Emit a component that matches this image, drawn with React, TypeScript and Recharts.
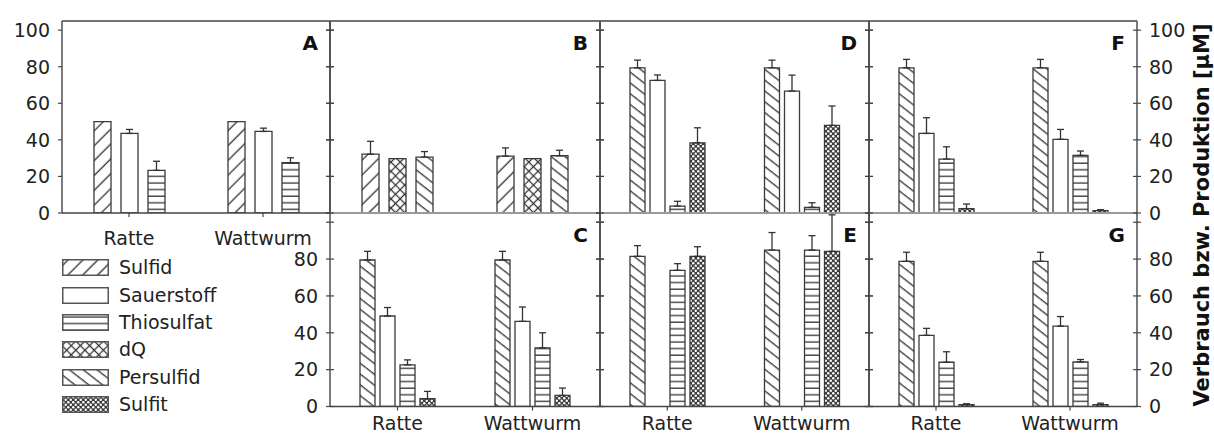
import React from 'react'
import { BarChart, Bar, XAxis, YAxis, ErrorBar, ReferenceLine } from 'recharts'

const FONT = '"DejaVu Sans", Verdana, sans-serif'
const INK = '#222'
const AXIS = '#444'
const BAR_LINE = '#3a3a3a'

const CATEGORIES = ['Ratte', 'Wattwurm']
const Y_TICKS = [0, 20, 40, 60, 80, 100]
const Y_MAX = 105

// Panel A
const A_SULFID = [50, 50]
const A_SULFID_ERR = [0, 0]
const A_SAUERSTOFF = [43.5, 44.6]
const A_SAUERSTOFF_ERR = [2.2, 1.8]
const A_THIOSULFAT = [23.3, 27.5]
const A_THIOSULFAT_ERR = [5, 2.7]

// Panel B
const B_SULFID = [32.2, 31.1]
const B_SULFID_ERR = [7, 4.5]
const B_DQ = [29.7, 29.7]
const B_DQ_ERR = [0, 0]
const B_PERSULFID = [30.6, 31.3]
const B_PERSULFID_ERR = [3, 3]

// Panel C
const C_PERSULFID = [79.5, 79.5]
const C_PERSULFID_ERR = [4.7, 4.7]
const C_SAUERSTOFF = [49.1, 46.2]
const C_SAUERSTOFF_ERR = [4.6, 7.8]
const C_THIOSULFAT = [22.6, 31.8]
const C_THIOSULFAT_ERR = [2.7, 8.2]
const C_SULFIT = [4.2, 6]
const C_SULFIT_ERR = [4, 4]

// Panel D
const D_PERSULFID = [79.4, 79.4]
const D_PERSULFID_ERR = [4.2, 4.2]
const D_SAUERSTOFF = [72.5, 66.7]
const D_SAUERSTOFF_ERR = [3, 8.7]
const D_THIOSULFAT = [3.8, 3.1]
const D_THIOSULFAT_ERR = [2.6, 2.5]
const D_SULFIT = [38.4, 47.9]
const D_SULFIT_ERR = [8.2, 10.6]

// Panel E (no Sauerstoff measured)
const E_PERSULFID = [81.5, 84.9]
const E_PERSULFID_ERR = [5.8, 9.5]
const E_SAUERSTOFF = [null, null]
const E_SAUERSTOFF_ERR = [0, 0]
const E_THIOSULFAT = [73.9, 84.9]
const E_THIOSULFAT_ERR = [3.6, 7.8]
const E_SULFIT = [81.5, 84.2]
const E_SULFIT_ERR = [5.2, 19.8]

// Panel F
const F_PERSULFID = [79.4, 79.4]
const F_PERSULFID_ERR = [4.6, 4.6]
const F_SAUERSTOFF = [43.5, 40.3]
const F_SAUERSTOFF_ERR = [8.6, 5.4]
const F_THIOSULFAT = [29.5, 31.5]
const F_THIOSULFAT_ERR = [6.7, 2.4]
const F_SULFIT = [2.4, 1.3]
const F_SULFIT_ERR = [2.5, 0.5]

// Panel G
const G_PERSULFID = [78.8, 78.8]
const G_PERSULFID_ERR = [4.9, 4.9]
const G_SAUERSTOFF = [38.6, 43.6]
const G_SAUERSTOFF_ERR = [3.8, 5.2]
const G_THIOSULFAT = [24, 24.2]
const G_THIOSULFAT_ERR = [5.7, 1.3]
const G_SULFIT = [1, 1]
const G_SULFIT_ERR = [0.5, 0.8]

const LEGEND = [
  { key: 'sulfid', name: 'Sulfid' },
  { key: 'sauerstoff', name: 'Sauerstoff' },
  { key: 'thiosulfat', name: 'Thiosulfat' },
  { key: 'dq', name: 'dQ' },
  { key: 'persulfid', name: 'Persulfid' },
  { key: 'sulfit', name: 'Sulfit' },
]

const fillOf = (key: string) => key === 'sauerstoff' ? '#fff' : `url(#p-${key})`

type Series = { key: string; values: (number | null)[]; errs: number[] }
type PanelCfg = {
  letter: string
  x: number; y: number; w: number; h: number
  row: 0 | 1
  leftLabels?: boolean
  rightLabels?: boolean
  outerLeft?: boolean
  xLabels?: boolean
  barSize: number
  barGap: number
  series: Series[]
}

const TOP_Y = 21
const TOP_H = 192
const BOT_Y = 213
const BOT_H = 193.5

const PANELS: PanelCfg[] = [
  {
    letter: 'A', x: 62, y: TOP_Y, w: 268, h: TOP_H, row: 0, leftLabels: true, outerLeft: true, xLabels: true,
    barSize: 17, barGap: 10,
    series: [
      { key: 'sulfid', values: A_SULFID, errs: A_SULFID_ERR },
      { key: 'sauerstoff', values: A_SAUERSTOFF, errs: A_SAUERSTOFF_ERR },
      { key: 'thiosulfat', values: A_THIOSULFAT, errs: A_THIOSULFAT_ERR },
    ],
  },
  {
    letter: 'B', x: 330, y: TOP_Y, w: 270, h: TOP_H, row: 0,
    barSize: 17, barGap: 10,
    series: [
      { key: 'sulfid', values: B_SULFID, errs: B_SULFID_ERR },
      { key: 'dq', values: B_DQ, errs: B_DQ_ERR },
      { key: 'persulfid', values: B_PERSULFID, errs: B_PERSULFID_ERR },
    ],
  },
  {
    letter: 'D', x: 600, y: TOP_Y, w: 269, h: TOP_H, row: 0,
    barSize: 15, barGap: 5,
    series: [
      { key: 'persulfid', values: D_PERSULFID, errs: D_PERSULFID_ERR },
      { key: 'sauerstoff', values: D_SAUERSTOFF, errs: D_SAUERSTOFF_ERR },
      { key: 'thiosulfat', values: D_THIOSULFAT, errs: D_THIOSULFAT_ERR },
      { key: 'sulfit', values: D_SULFIT, errs: D_SULFIT_ERR },
    ],
  },
  {
    letter: 'F', x: 869, y: TOP_Y, w: 268, h: TOP_H, row: 0, rightLabels: true,
    barSize: 15, barGap: 5,
    series: [
      { key: 'persulfid', values: F_PERSULFID, errs: F_PERSULFID_ERR },
      { key: 'sauerstoff', values: F_SAUERSTOFF, errs: F_SAUERSTOFF_ERR },
      { key: 'thiosulfat', values: F_THIOSULFAT, errs: F_THIOSULFAT_ERR },
      { key: 'sulfit', values: F_SULFIT, errs: F_SULFIT_ERR },
    ],
  },
  {
    letter: 'C', x: 330, y: BOT_Y, w: 270, h: BOT_H, row: 1, leftLabels: true, xLabels: true,
    barSize: 15, barGap: 5,
    series: [
      { key: 'persulfid', values: C_PERSULFID, errs: C_PERSULFID_ERR },
      { key: 'sauerstoff', values: C_SAUERSTOFF, errs: C_SAUERSTOFF_ERR },
      { key: 'thiosulfat', values: C_THIOSULFAT, errs: C_THIOSULFAT_ERR },
      { key: 'sulfit', values: C_SULFIT, errs: C_SULFIT_ERR },
    ],
  },
  {
    letter: 'E', x: 600, y: BOT_Y, w: 269, h: BOT_H, row: 1, xLabels: true,
    barSize: 15, barGap: 5,
    series: [
      { key: 'persulfid', values: E_PERSULFID, errs: E_PERSULFID_ERR },
      { key: 'sauerstoff', values: E_SAUERSTOFF, errs: E_SAUERSTOFF_ERR },
      { key: 'thiosulfat', values: E_THIOSULFAT, errs: E_THIOSULFAT_ERR },
      { key: 'sulfit', values: E_SULFIT, errs: E_SULFIT_ERR },
    ],
  },
  {
    letter: 'G', x: 869, y: BOT_Y, w: 268, h: BOT_H, row: 1, rightLabels: true, xLabels: true,
    barSize: 15, barGap: 5,
    series: [
      { key: 'persulfid', values: G_PERSULFID, errs: G_PERSULFID_ERR },
      { key: 'sauerstoff', values: G_SAUERSTOFF, errs: G_SAUERSTOFF_ERR },
      { key: 'thiosulfat', values: G_THIOSULFAT, errs: G_THIOSULFAT_ERR },
      { key: 'sulfit', values: G_SULFIT, errs: G_SULFIT_ERR },
    ],
  },
]

function buildRows(series: Series[]) {
  return CATEGORIES.map((cat, i) => {
    const row: Record<string, any> = { cat }
    series.forEach(s => {
      row[s.key] = s.values[i]
      row[s.key + 'Err'] = [0, s.errs[i]]
    })
    return row
  })
}

function Patterns() {
  const s = { stroke: '#333', strokeWidth: 1.3 }
  return (
    <svg width={0} height={0} style={{ position: 'absolute' }}>
      <defs>
        <pattern id="p-sulfid" patternUnits="userSpaceOnUse" width={10.5} height={10.5} patternTransform="rotate(45)">
          <rect width={10.5} height={10.5} fill="#fff" />
          <line x1={5} y1={0} x2={5} y2={10.5} {...s} />
        </pattern>
        <pattern id="p-persulfid" patternUnits="userSpaceOnUse" width={8.5} height={8.5} patternTransform="rotate(-52)">
          <rect width={8.5} height={8.5} fill="#fff" />
          <line x1={4} y1={0} x2={4} y2={8.5} {...s} />
        </pattern>
        <pattern id="p-thiosulfat" patternUnits="userSpaceOnUse" width={10} height={6.6}>
          <rect width={10} height={6.6} fill="#fff" />
          <line x1={0} y1={3} x2={10} y2={3} {...s} />
        </pattern>
        <pattern id="p-dq" patternUnits="userSpaceOnUse" width={6.5} height={6.5} patternTransform="rotate(45)">
          <rect width={6.5} height={6.5} fill="#fff" />
          <line x1={3.25} y1={0} x2={3.25} y2={6.5} stroke="#333" strokeWidth={1.25} />
          <line x1={0} y1={3.25} x2={6.5} y2={3.25} stroke="#333" strokeWidth={1.25} />
        </pattern>
        <pattern id="p-sulfit" patternUnits="userSpaceOnUse" width={5} height={5}>
          <rect width={5} height={5} fill="#3c3c3c" />
          <circle cx={1.25} cy={1.25} r={1.25} fill="#fff" />
          <circle cx={3.75} cy={3.75} r={1.25} fill="#fff" />
        </pattern>
      </defs>
    </svg>
  )
}

// axisX is the axis line position inside the chart svg
function YTick(props: any) {
  const { y, payload, side, axisX, showLabel, outerOnly } = props
  const v = payload.value
  const out = side === 'left' ? -4 : 4
  const inner = outerOnly ? 0 : -out
  const label = showLabel && (showLabel === 'all' || v < 100)
  return (
    <g>
      <line x1={axisX + out} x2={axisX + inner} y1={y} y2={y} stroke={AXIS} strokeWidth={1.2} />
      {label && (
        <text x={side === 'left' ? axisX - 12 : axisX + 12} y={y} dy="0.36em"
              textAnchor={side === 'left' ? 'end' : 'start'}
              fontSize={19} fontFamily={FONT} fill={INK}>
          {v}
        </text>
      )}
    </g>
  )
}

function Panel({ p }: { p: PanelCfg }) {
  const data = buildRows(p.series)
  const L = p.leftLabels ? 52 : 8
  const R = p.rightLabels ? 52 : 8
  const top = 6
  const xh = p.xLabels ? (p.row === 0 ? 48 : 34) : 16
  const width = L + p.w + R
  const height = top + p.h + xh
  const xLine = p.row === 0 && !p.xLabels
    ? { stroke: '#9a9a9a', strokeWidth: 2 }
    : { stroke: AXIS, strokeWidth: 1.4 }
  return (
    <div style={{ position: 'absolute', left: p.x - L, top: p.y - top }}>
      <BarChart width={width} height={height} data={data}
                margin={{ top, right: 0, bottom: 0, left: 0 }}
                barSize={p.barSize} barGap={p.barGap}>
        <XAxis dataKey="cat" height={xh} interval={0}
               axisLine={xLine}
               tickLine={p.xLabels ? { stroke: AXIS, strokeWidth: 1.2 } : false}
               tickSize={4} tickMargin={p.row === 0 ? 15 : 6}
               tick={p.xLabels ? { fontSize: 19, fontFamily: FONT, fill: INK } : false} />
        <YAxis yAxisId="l" width={L} domain={[0, Y_MAX]} ticks={Y_TICKS} interval={0} allowDataOverflow
               axisLine={{ stroke: AXIS, strokeWidth: 1.4 }} tickLine={false} tickSize={0} tickMargin={0}
               tick={(t: any) => <YTick {...t} side="left" axisX={L}
                                        showLabel={p.leftLabels ? (p.row === 0 ? 'all' : 'low') : false}
                                        outerOnly={p.outerLeft} />} />
        <YAxis yAxisId="r" orientation="right" width={R} domain={[0, Y_MAX]} ticks={Y_TICKS} interval={0} allowDataOverflow
               axisLine={{ stroke: AXIS, strokeWidth: 1.4 }} tickLine={false} tickSize={0} tickMargin={0}
               tick={(t: any) => <YTick {...t} side="right" axisX={L + p.w}
                                        showLabel={p.rightLabels ? (p.row === 0 ? 'all' : 'low') : false} />} />
        {p.row === 0 && <ReferenceLine yAxisId="l" y={Y_MAX} stroke={AXIS} strokeWidth={1.4} />}
        {p.series.map(s => (
          <Bar key={s.key} yAxisId="l" dataKey={s.key} fill={fillOf(s.key)}
               stroke={BAR_LINE} strokeWidth={1.3} isAnimationActive={false}>
            {s.errs.some(e => e > 0) && (
              <ErrorBar dataKey={s.key + 'Err'} direction="y" width={3.5}
                        stroke="#333" strokeWidth={1.3} isAnimationActive={false} />
            )}
          </Bar>
        ))}
      </BarChart>
    </div>
  )
}

export default function App() {
  return (
    <div style={{
      position: 'absolute', left: 0, top: 0, width: 1214, height: 441,
      background: '#fff', overflow: 'hidden', fontFamily: FONT,
    }}>
      <Patterns />
      {PANELS.map(p => <Panel key={p.letter} p={p} />)}

      {/* legend */}
      <div style={{ position: 'absolute', left: 62, top: 254 }}>
        {LEGEND.map(item => (
          <div key={item.key} style={{ display: 'flex', alignItems: 'center', height: 27.4 }}>
            <svg width={47} height={17} style={{ display: 'block' }}>
              <rect x={0.75} y={0.75} width={45.5} height={15.5}
                    fill={fillOf(item.key)} stroke="#555" strokeWidth={1.5} />
            </svg>
            <span style={{ marginLeft: 10, fontSize: 19, color: INK, lineHeight: 1 }}>{item.name}</span>
          </div>
        ))}
      </div>

      {/* panel letters and axis title */}
      <svg width={1214} height={441} style={{ position: 'absolute', left: 0, top: 0, pointerEvents: 'none' }}>
        {PANELS.map(p => (
          <text key={p.letter} x={p.x + p.w - 12} y={p.y + 29} textAnchor="end"
                fontSize={20} fontWeight="bold" fontFamily={FONT} fill="#111">
            {p.letter}
          </text>
        ))}
        <text transform="translate(1209, 215) rotate(-90)" textAnchor="middle"
              fontSize={21} fontWeight="bold" fontFamily={FONT} fill="#111">
          Verbrauch bzw. Produktion [µM]
        </text>
      </svg>
    </div>
  )
}
